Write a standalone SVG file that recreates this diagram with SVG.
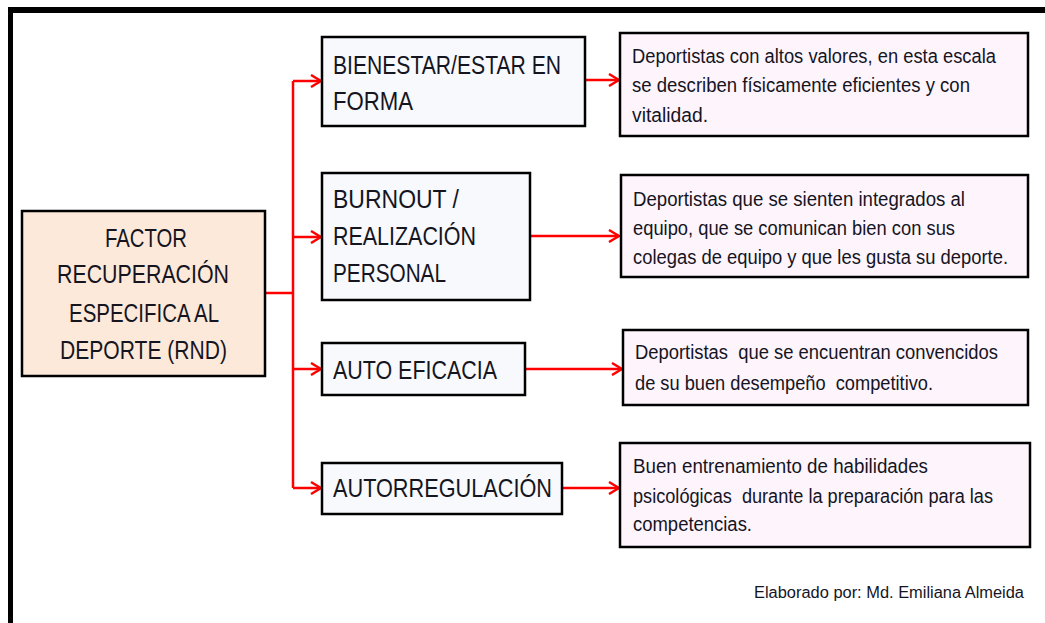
<svg xmlns="http://www.w3.org/2000/svg" width="1045" height="623" viewBox="0 0 1045 623">
<style>
.box{stroke:#000;stroke-width:2.5}
.main{fill:#FDE9D9}
.mid{fill:#F7F9FC}
.desc{fill:#FDF4FC}
.t{font-family:"Liberation Sans Narrow","Liberation Sans",Arial,sans-serif;fill:#15151f}
.big{font-size:26px}
.sm{font-size:20px}
.cr{font-size:16px}
.con{stroke:#FF0000;stroke-width:2.5;fill:none}
</style>
<defs>
<marker id="arr" viewBox="0 0 12 14" refX="11" refY="7" markerWidth="12" markerHeight="14" markerUnits="userSpaceOnUse" orient="auto">
<path d="M1,1 L11,7 L1,13" fill="none" stroke="#FF0000" stroke-width="2.5"/>
</marker>
</defs>
<rect width="1045" height="623" fill="#fff"/>
<g id="frame">
<rect x="8" y="7" width="1037" height="6" fill="#000"/>
<rect x="8" y="7" width="5" height="616" fill="#000"/>
</g>
<g id="connectors">
<path class="con" d="M265,293 H293" stroke-width="3"/>
<path class="con" d="M293,488 V81"/>
<path class="con" d="M293,81 H321" marker-end="url(#arr)"/>
<path class="con" d="M293,237 H321" marker-end="url(#arr)"/>
<path class="con" d="M293,369 H321" marker-end="url(#arr)"/>
<path class="con" d="M293,488 H321" marker-end="url(#arr)"/>
<path class="con" d="M585,80 H619" marker-end="url(#arr)"/>
<path class="con" d="M530,236 H619" marker-end="url(#arr)"/>
<path class="con" d="M525,369 H622" marker-end="url(#arr)"/>
<path class="con" d="M562,488 H619" marker-end="url(#arr)"/>
</g>
<g id="main">
<rect class="box main" x="22" y="211" width="243" height="165"/>
<g class="t big" text-anchor="middle">
<text x="146" y="247" textLength="82" lengthAdjust="spacingAndGlyphs">FACTOR</text>
<text x="143" y="283" textLength="172" lengthAdjust="spacingAndGlyphs">RECUPERACIÓN</text>
<text x="144" y="322" textLength="150" lengthAdjust="spacingAndGlyphs">ESPECIFICA AL</text>
<text x="143.5" y="359" textLength="167" lengthAdjust="spacingAndGlyphs">DEPORTE (RND)</text>
</g>
</g>
<g id="bienestar">
<rect class="box mid" x="322" y="37" width="263" height="89"/>
<text class="t big" x="333" y="74" textLength="228" lengthAdjust="spacingAndGlyphs">BIENESTAR/ESTAR EN</text>
<text class="t big" x="333" y="110" textLength="80" lengthAdjust="spacingAndGlyphs">FORMA</text>
</g>
<g id="burnout">
<rect class="box mid" x="322" y="173" width="208" height="127"/>
<text class="t big" x="333" y="208" textLength="126" lengthAdjust="spacingAndGlyphs">BURNOUT /</text>
<text class="t big" x="333" y="245" textLength="143" lengthAdjust="spacingAndGlyphs">REALIZACIÓN</text>
<text class="t big" x="333" y="282" textLength="113" lengthAdjust="spacingAndGlyphs">PERSONAL</text>
</g>
<g id="autoeficacia">
<rect class="box mid" x="322" y="343" width="203" height="52"/>
<text class="t big" x="333" y="379" textLength="164" lengthAdjust="spacingAndGlyphs">AUTO EFICACIA</text>
</g>
<g id="autorregulacion">
<rect class="box mid" x="322" y="463" width="240" height="51"/>
<text class="t big" x="333" y="497" textLength="219" lengthAdjust="spacingAndGlyphs">AUTORREGULACIÓN</text>
</g>
<g id="desc1">
<rect class="box desc" x="620" y="33" width="408" height="103"/>
<text class="t sm" x="632" y="63" textLength="364" lengthAdjust="spacingAndGlyphs">Deportistas con altos valores, en esta escala</text>
<text class="t sm" x="632" y="92" textLength="338" lengthAdjust="spacingAndGlyphs">se describen físicamente eficientes y con</text>
<text class="t sm" x="632" y="122" textLength="76" lengthAdjust="spacingAndGlyphs">vitalidad.</text>
</g>
<g id="desc2">
<rect class="box desc" x="621" y="175" width="407" height="102"/>
<text class="t sm" x="633" y="206" textLength="332" lengthAdjust="spacingAndGlyphs">Deportistas que se sienten integrados al</text>
<text class="t sm" x="633" y="235" textLength="322" lengthAdjust="spacingAndGlyphs">equipo, que se comunican bien con sus</text>
<text class="t sm" x="633" y="264" textLength="375" lengthAdjust="spacingAndGlyphs">colegas de equipo y que les gusta su deporte.</text>
</g>
<g id="desc3">
<rect class="box desc" x="623" y="330" width="405" height="75"/>
<text class="t sm" x="635" y="359" textLength="363" lengthAdjust="spacingAndGlyphs" xml:space="preserve">Deportistas  que se encuentran convencidos</text>
<text class="t sm" x="635" y="390" textLength="298" lengthAdjust="spacingAndGlyphs" xml:space="preserve">de su buen desempeño  competitivo.</text>
</g>
<g id="desc4">
<rect class="box desc" x="620" y="443" width="410" height="104"/>
<text class="t sm" x="633" y="473" textLength="295" lengthAdjust="spacingAndGlyphs">Buen entrenamiento de habilidades</text>
<text class="t sm" x="633" y="503" textLength="360" lengthAdjust="spacingAndGlyphs" xml:space="preserve">psicológicas  durante la preparación para las</text>
<text class="t sm" x="633" y="531" textLength="119" lengthAdjust="spacingAndGlyphs">competencias.</text>
</g>
<g id="credit">
<text class="t cr" x="754" y="598" textLength="270" lengthAdjust="spacingAndGlyphs">Elaborado por: Md. Emiliana Almeida</text>
</g>
</svg>
